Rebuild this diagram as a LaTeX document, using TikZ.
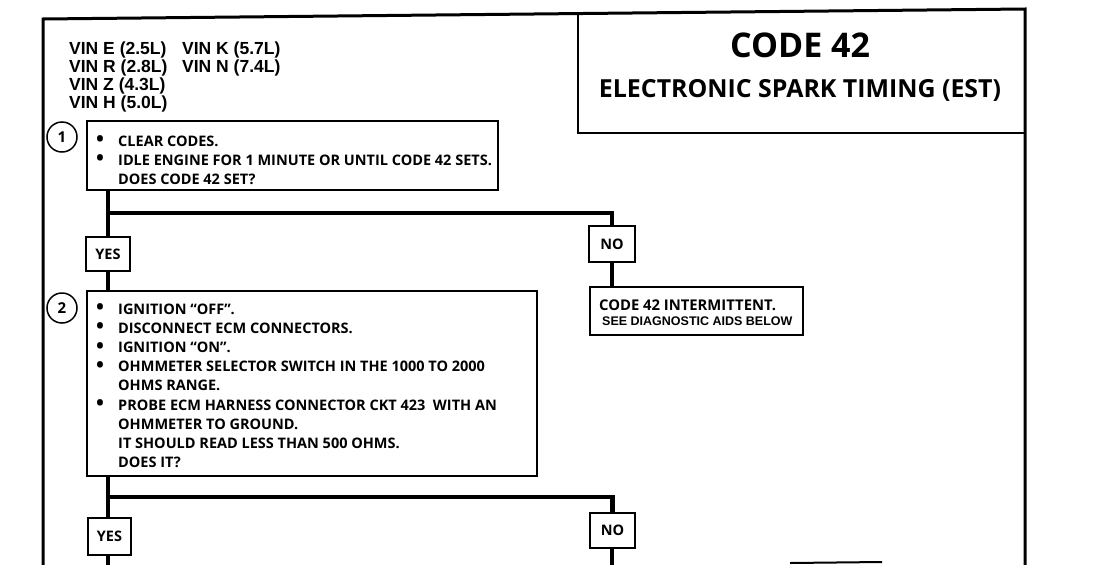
\documentclass[tikz,border=0pt]{standalone}
\usepackage{fontspec}
\setmainfont{Open Sans}
\newfontfamily\vinfont{Liberation Sans}
\newcommand{\bigbul}{\raisebox{-0.6pt}{\scalebox{1.45}{•}}}
\begin{document}
\begin{tikzpicture}[x=1pt,y=-1pt,
  frame/.style={line width=3pt},
  box/.style={draw, line width=1.6pt, rectangle, inner sep=0pt, fill=white},
  flow/.style={line width=4.2pt},
  txt/.style={inner sep=0pt, anchor=base west},
  lbl/.style={box, font=\fontsize{14.5}{17}\selectfont\bfseries},
  num/.style={draw, circle, line width=1.5pt, minimum size=30pt, inner sep=0pt, fill=white, font=\fontsize{15}{17}\selectfont\bfseries}]
\useasboundingbox (0,0) rectangle (1098,565);
% outer frame
\draw[frame] (43,565) -- (43,19) -- (1025,9) -- (1025,565);
% title box
\draw[line width=2pt] (578,13.6) -- (578,133) -- (1024,133);
\node[inner sep=0pt, anchor=base, font=\fontsize{34}{40}\selectfont\bfseries] (title) at (800,57) {CODE 42};
\node[inner sep=0pt, anchor=base, font=\fontsize{24.9}{30}\selectfont\bfseries] (subtitle) at (800,97) {ELECTRONIC SPARK TIMING (EST)};
% VIN list
\node[txt, font=\vinfont\fontsize{17.5}{18.3}\selectfont\bfseries] (vin) at (69,54)
 {\begin{tabular}[t]{@{}p{113pt}@{}l@{}}
  VIN E (2.5L) & VIN K (5.7L)\\
  VIN R (2.8L) & VIN N (7.4L)\\
  VIN Z (4.3L) & \\
  VIN H (5.0L) &
  \end{tabular}};
% step boxes
\node[box, minimum width=411pt, minimum height=69pt] (b1) at (292.5,155.5) {};
\node[txt, font=\fontsize{14.5}{19}\selectfont\bfseries] (t1) at (96,146)
 {\begin{tabular}[t]{@{}p{22pt}@{}l@{}}
  \bigbul & CLEAR CODES.\\
  \bigbul & IDLE ENGINE FOR 1 MINUTE OR UNTIL CODE 42 SETS.\\
    & DOES CODE 42 SET?
  \end{tabular}};
\node[num] (c1) at (62,137) {1};

\node[box, minimum width=450pt, minimum height=185pt] (b2) at (312,383.5) {};
\node[txt, font=\fontsize{14.5}{19.2}\selectfont\bfseries] (t2) at (96,314)
 {\begin{tabular}[t]{@{}p{22pt}@{}l@{}}
  \bigbul & IGNITION “OFF”.\\
  \bigbul & DISCONNECT ECM CONNECTORS.\\
  \bigbul & IGNITION “ON”.\\
  \bigbul & OHMMETER SELECTOR SWITCH IN THE 1000 TO 2000\\
    & OHMS RANGE.\\
  \bigbul & PROBE ECM HARNESS CONNECTOR CKT 423 \ WITH AN\\
    & OHMMETER TO GROUND.\\
    & IT SHOULD READ LESS THAN 500 OHMS.\\
    & DOES IT?
  \end{tabular}};
\node[num] (c2) at (62,308) {2};

% labels
\node[lbl, minimum width=44pt, minimum height=34pt] (yes1) at (108,254) {YES};
\node[lbl, minimum width=46pt, minimum height=36pt] (no1) at (612,244) {NO};
\node[lbl, minimum width=43pt, minimum height=37pt] (yes2) at (109.5,536.5) {YES};
\node[lbl, minimum width=45pt, minimum height=35pt] (no2) at (612.5,530.5) {NO};

% result box
\node[box, minimum width=213pt, minimum height=48pt] (res1) at (696.5,311) {};
\node[txt, font=\fontsize{14.8}{15}\selectfont\bfseries] (rt) at (599,310)
 {\begin{tabular}[t]{@{}l@{}}
  CODE 42 INTERMITTENT.\\
  \hspace{3pt}{\vinfont\fontsize{12.5}{15}\selectfont\bfseries SEE DIAGNOSTIC AIDS BELOW}
  \end{tabular}};

% connectors
\coordinate (j1) at (108,213);
\coordinate (j2) at (108,497);
\coordinate (e1) at (108,565);
\coordinate (e2) at (612,565);
\draw[flow] (j1 |- b1.south) -- (j1 |- yes1.north);
\draw[flow] (j1) -| (no1.north);
\draw[flow] (j1 |- yes1.south) -- (j1 |- b2.north);
\draw[flow] (no1.south) -- (no1.south |- res1.north);
\draw[flow] (j2 |- b2.south) -- (j2 |- yes2.north);
\draw[flow] (j2) -| (no2.north);
\draw[flow] (j2 |- yes2.south) -- (e1);
\draw[flow] (e2 |- no2.south) -- (e2);
% cut-off box top at the bottom edge
\coordinate (k1) at (790,563);
\coordinate (k2) at (882,562);
\draw[line width=2pt] (k1) -- (k2);
\end{tikzpicture}
\end{document}
